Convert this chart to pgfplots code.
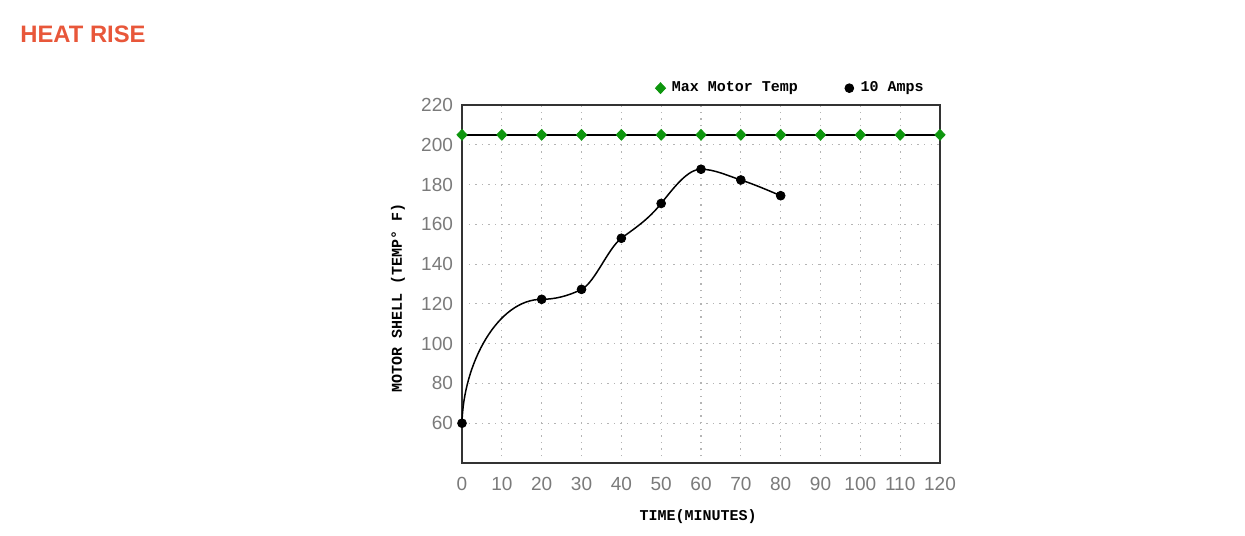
\documentclass[border=0pt]{standalone}
\usepackage{pgfplots}
\pgfplotsset{compat=1.18}
\usepackage{fontspec}
\setmainfont{Liberation Sans}
\newfontfamily\monofont{Liberation Mono}
\definecolor{titleC}{HTML}{E8573A}
\definecolor{maxC}{HTML}{0E960E}
\definecolor{tickC}{HTML}{7A7A7A}
\definecolor{gridC}{HTML}{B4B4B4}
\definecolor{frameC}{HTML}{333333}

\begin{document}
\begin{tikzpicture}
\path[use as bounding box] (0,0) rectangle (622.5pt,267.5pt);
\node[anchor=west, inner sep=0pt, font=\fontsize{11.9}{13}\selectfont\bfseries, text=titleC]
  at (10pt,250.5pt) {HEAT RISE};
\begin{axis}[
  at={(231pt,36pt)}, anchor=south west,
  scale only axis, width=239pt, height=179pt,
  xmin=0, xmax=120, ymin=40, ymax=220,
  xtick={0,10,...,120}, ytick={60,80,...,220},
  major tick length=0pt,
  axis line style={frameC, line width=0.8pt},
  grid=major, grid style={gridC, line width=0.55pt, dash pattern=on 0.7pt off 2.6pt},
  /pgf/number format/assume math mode=true,
  ticklabel style={font=\fontsize{9.5}{11}\selectfont, text=tickC},
  xticklabel style={yshift=-3.5pt},
  yticklabel style={xshift=-1pt},
  xlabel={TIME(MINUTES)},
  ylabel={MOTOR SHELL (TEMP° F)},
  xlabel style={at={(axis description cs:0.494,-0.150)}, anchor=center,
    font=\monofont\bfseries\fontsize{7.5}{9}\selectfont},
  ylabel style={at={(axis description cs:-0.134,0.462)}, anchor=center,
    rotate=0, font=\monofont\bfseries\fontsize{7.5}{9}\selectfont},
  clip=false,
  legend columns=2,
  legend style={draw=none, fill=none, at={(0.6895,1.047)}, anchor=center,
    font=\monofont\bfseries\fontsize{7.5}{9}\selectfont,
    /tikz/every even column/.append style={column sep=21.5pt}},
  legend image code/.code={\path (0pt,0pt) (5.5pt,0pt);
    \draw[#1] plot coordinates {(2pt,0pt)};},
]
% max motor temp line and marks
\addplot[black, line width=0.75pt, forget plot] coordinates {
  (0,205) (10,205) (20,205) (30,205) (40,205) (50,205) (60,205)
  (70,205) (80,205) (90,205) (100,205) (110,205) (120,205)};
\addplot[only marks, mark=diamond*, mark size=2.7pt, maxC,
  mark options={fill=maxC, draw=maxC, xscale=1.25}] coordinates {
  (0,205) (10,205) (20,205) (30,205) (40,205) (50,205) (60,205)
  (70,205) (80,205) (90,205) (100,205) (110,205) (120,205)};
\addlegendentry{Max Motor Temp}
% 10 amps: spline through the readings (Hermite controls)
\draw[black, line width=0.75pt]
  (axis cs:0,60) .. controls (axis cs:0.3,90) and (axis cs:9,122.3) .. (axis cs:20,122.3)
  .. controls (axis cs:23.33,122.3) and (axis cs:26.67,123.97) .. (axis cs:30,127.3)
  .. controls (axis cs:33.33,130.63) and (axis cs:36.67,148) .. (axis cs:40,153)
  .. controls (axis cs:43.33,158) and (axis cs:46.67,162.17) .. (axis cs:50,170.5)
  .. controls (axis cs:53.33,178.83) and (axis cs:56.67,187.7) .. (axis cs:60,187.7)
  .. controls (axis cs:63.33,187.7) and (axis cs:66.67,184.47) .. (axis cs:70,182.3)
  .. controls (axis cs:73.33,180.13) and (axis cs:76.67,177.23) .. (axis cs:80,174.4);
\addplot[only marks, mark=*, mark size=2.2pt, black] coordinates {
  (0,60) (20,122.3) (30,127.3) (40,153) (50,170.5) (60,187.7) (70,182.3) (80,174.4)};
\addlegendentry{10 Amps}
\end{axis}
\end{tikzpicture}
\end{document}
